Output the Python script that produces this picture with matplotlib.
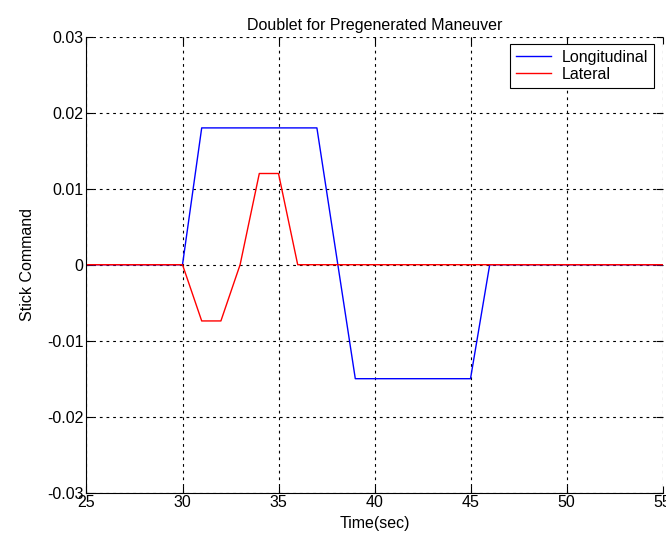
import matplotlib
matplotlib.use("Agg")
import matplotlib.pyplot as plt

plt.rcParams['font.family'] = ['Liberation Sans', 'DejaVu Sans']
plt.rcParams['axes.unicode_minus'] = False

# stick command breakpoints (time in sec)
long_t = [25, 30, 31, 37, 39, 45, 46, 55]
long_cmd = [0, 0, 0.018, 0.018, -0.015, -0.015, 0, 0]

lat_t = [25, 30, 31, 32, 33, 34, 35, 36, 55]
lat_cmd = [0, 0, -0.0074, -0.0074, 0, 0.012, 0.012, 0, 0]

xticks = [25, 30, 35, 40, 45, 50, 55]
yticks = [-0.03, -0.02, -0.01, 0, 0.01, 0.02, 0.03]
ytick_labels = ["-0.03", "-0.02", "-0.01", "0", "0.01", "0.02", "0.03"]

fig = plt.figure(figsize=(6.66, 5.41), dpi=100)
ax = fig.add_axes([86.5 / 666, 48.3 / 541, 576 / 666, 456 / 541])

ax.plot(long_t, long_cmd, color=(0, 0, 1), lw=1.0, label="Longitudinal")
ax.plot(lat_t, lat_cmd, color=(1, 0, 0), lw=1.0, label="Lateral")

ax.set_xlim(25, 55)
ax.set_ylim(-0.03, 0.03)
ax.set_xticks(xticks)
ax.set_yticks(yticks)
ax.set_yticklabels(ytick_labels)
ax.tick_params(direction='in', top=True, right=True, length=5, width=0.8,
               labelsize=11.5, pad=2)
ax.grid(True, color='black', linestyle=(0, (2.5, 3.5)), linewidth=0.8)
ax.set_axisbelow(True)
for s in ['top', 'right']:
    ax.spines[s].set_visible(False)

ax.set_xlabel("Time(sec)", fontsize=11.5, labelpad=4)
ax.set_ylabel("Stick Command", fontsize=11.5, labelpad=9)
ax.set_title("Doublet for Pregenerated Maneuver", fontsize=11.5, pad=5)

leg = ax.legend(loc='upper right', bbox_to_anchor=(1 - 8.5 / 576, 1 - 7.3 / 456),
                fancybox=False, framealpha=1, edgecolor='black', fontsize=11.5,
                handlelength=2.2, borderaxespad=0, borderpad=0.35, labelspacing=0.15,
                handletextpad=0.7)
leg.get_frame().set_linewidth(0.8)

plt.savefig("out.png", dpi=100)
